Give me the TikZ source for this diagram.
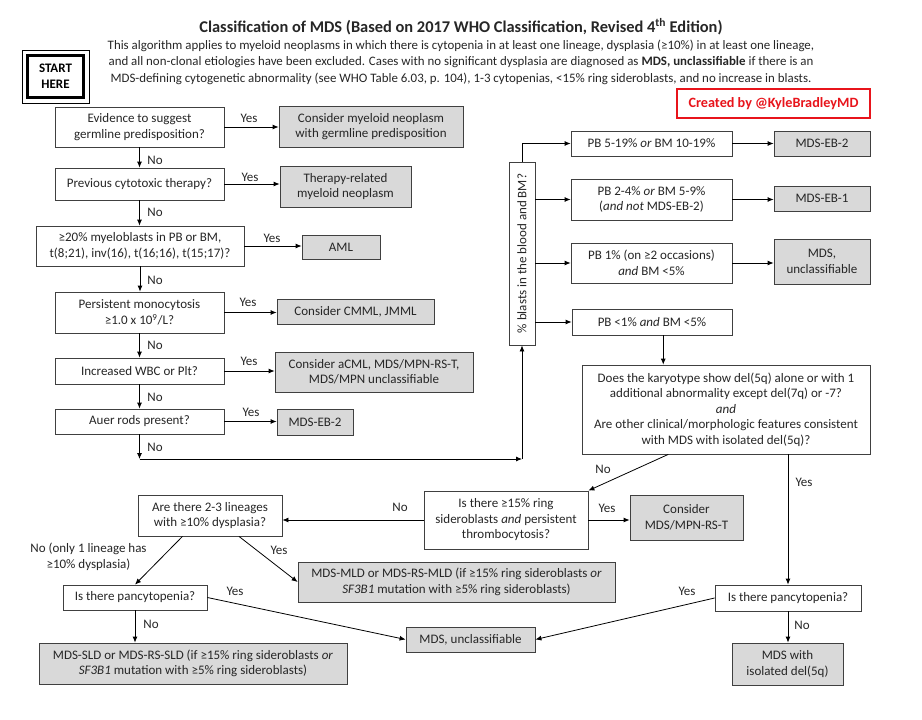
\documentclass[tikz,border=0pt]{standalone}
\usepackage{fontspec}
\setmainfont{Carlito}
\usetikzlibrary{arrows.meta,calc}
\definecolor{txt}{HTML}{262626}
\definecolor{bord}{HTML}{404040}
\definecolor{gfill}{HTML}{D9D9D9}
\definecolor{redc}{HTML}{E8141B}
\begin{document}
\begin{tikzpicture}[x=1pt,y=-1pt,
  base/.style={font=\fontsize{13}{15.5}\selectfont, text=txt, align=center, inner sep=1pt},
  qbox/.style={base, draw=bord, line width=0.8pt, fill=white},
  rbox/.style={qbox, fill=gfill},
  lbl/.style={base, inner sep=0pt},
  arr/.style={-{Latex[length=6pt,width=5pt]}, line width=0.8pt, draw=black}]
\useasboundingbox (0,0) rectangle (922,720);
\fill[white] (0,0) rectangle (922,720);

% header
\node[lbl, font=\fontsize{16.4}{19}\selectfont\bfseries] (title) at (461,27)
  {Classification of MDS (Based on 2017 WHO Classification, Revised 4\textsuperscript{th} Edition)};
\node[lbl, font=\fontsize{12.9}{16.5}\selectfont] (sub) at (461,62)
  {This algorithm applies to myeloid neoplasms in which there is cytopenia in at least one lineage, dysplasia (≥10\%) in at least one lineage,\\
   and all non-clonal etiologies have been excluded. Cases with no significant dysplasia are diagnosed as \textbf{MDS, unclassifiable} if there is an\\
   MDS-defining cytogenetic abnormality (see WHO Table 6.03, p. 104), 1-3 cytopenias, <15\% ring sideroblasts, and no increase in blasts.};
\node[draw=black, line width=0.9pt, minimum width=67pt, minimum height=53pt, inner sep=0pt] (startout) at (55.5,76.5) {};
\node[base, draw=black, line width=3pt, minimum width=56pt, minimum height=42pt, font=\fontsize{13}{16}\selectfont\bfseries, text=black] (start) at (55.5,76.5) {START\\HERE};
\node[base, draw=redc, line width=1.6pt, minimum width=193pt, minimum height=29pt, text=redc, font=\fontsize{14.2}{16}\selectfont\bfseries] (credit) at (773.5,103.5) {Created by @KyleBradleyMD};

% left column
\node[qbox, minimum width=169pt, minimum height=40pt] (ev) at (139.5,127) {Evidence to suggest\\germline predisposition?};
\node[rbox, minimum width=184pt, minimum height=41pt] (evr) at (371,126.5) {Consider myeloid neoplasm\\with germline predisposition};
\node[qbox, minimum width=169pt, minimum height=32pt] (prev) at (139.5,184) {Previous cytotoxic therapy?};
\node[rbox, minimum width=131pt, minimum height=41pt] (ther) at (345.5,186.5) {Therapy-related\\myeloid neoplasm};
\node[qbox, minimum width=208pt, minimum height=40pt] (amlq) at (140,246) {≥20\% myeloblasts in PB or BM,\\t(8;21), inv(16), t(16;16), t(15;17)?};
\node[rbox, minimum width=78pt, minimum height=24pt] (aml) at (341,247) {AML};
\node[qbox, minimum width=169pt, minimum height=41pt] (mono) at (139.5,312.5) {Persistent monocytosis\\≥1.0 x 10\textsuperscript{9}/L?};
\node[rbox, minimum width=157pt, minimum height=25pt] (cmml) at (355.5,311.5) {Consider CMML, JMML};
\node[qbox, minimum width=169pt, minimum height=26pt] (wbc) at (139.5,371) {Increased WBC or Plt?};
\node[rbox, minimum width=198pt, minimum height=40pt] (acml) at (374,372) {Consider aCML, MDS/MPN-RS-T,\\MDS/MPN unclassifiable};
\node[qbox, minimum width=169pt, minimum height=25pt] (auer) at (139.5,421.5) {Auer rods present?};
\node[rbox, minimum width=76pt, minimum height=26pt] (eb2l) at (315,422) {MDS-EB-2};

\node[lbl] (y1) at (249,118) {Yes};
\node[lbl] (y2) at (250,177) {Yes};
\node[lbl] (y3) at (272,238) {Yes};
\node[lbl] (y4) at (248,302) {Yes};
\node[lbl] (y5) at (249,361) {Yes};
\node[lbl] (y6) at (251,412) {Yes};
\node[lbl] (n1) at (155,160) {No};
\node[lbl] (n2) at (155,212) {No};
\node[lbl] (n3) at (155,280) {No};
\node[lbl] (n4) at (155,345) {No};
\node[lbl] (n5) at (155,397) {No};
\node[lbl] (n6) at (155,447) {No};

\draw[arr] (ev.east) -- (ev.east -| evr.west);
\draw[arr] (prev.east) -- (prev.east -| ther.west);
\draw[arr] (amlq.east) -- (amlq.east -| aml.west);
\draw[arr] (mono.east) -- (mono.east -| cmml.west);
\draw[arr] (wbc.east) -- (wbc.east -| acml.west);
\draw[arr] (auer.east) -- (auer.east -| eb2l.west);
\draw[arr] (ev.south) -- (prev.north);
\draw[arr] (prev.south) -- (prev.south |- amlq.north);
\draw[arr] (amlq.south) -- (amlq.south |- mono.north);
\draw[arr] (mono.south) -- (wbc.north);
\draw[arr] (wbc.south) -- (auer.north);

% blasts column
\node[qbox, minimum width=26pt, minimum height=183pt] (blast) at (522,253.5) {\rotatebox{90}{\% blasts in the blood and BM?}};
\coordinate (j1) at (139.5,459);
\coordinate (j2) at (522,459);
\draw[arr] (auer.south) -- (j1);
\draw[arr] (j1) -- (j2);
\draw[arr] (j2) -- (blast.south);

\node[qbox, minimum width=161pt, minimum height=25pt] (b1) at (651.5,143.5) {PB 5-19\% \textit{or} BM 10-19\%};
\node[qbox, minimum width=161pt, minimum height=41pt] (b2) at (651.5,199.5) {PB 2-4\% \textit{or} BM 5-9\%\\(\textit{and not} MDS-EB-2)};
\node[qbox, minimum width=161pt, minimum height=40pt] (b3) at (651.5,263) {PB 1\% (on ≥2 occasions)\\\textit{and} BM <5\%};
\node[qbox, minimum width=160pt, minimum height=26pt] (b4) at (652,322) {PB <1\% \textit{and} BM <5\%};
\node[rbox, minimum width=96pt, minimum height=25pt] (eb2r) at (822,143.5) {MDS-EB-2};
\node[rbox, minimum width=96pt, minimum height=25pt] (eb1) at (822,198.5) {MDS-EB-1};
\node[rbox, minimum width=96pt, minimum height=45pt] (mdsu1) at (822,261.5) {MDS,\\unclassifiable};

\draw[arr] (blast.north) |- (b1.west);
\draw[arr] (blast.east |- b2.west) -- (b2.west);
\draw[arr] (blast.east |- b3.west) -- (b3.west);
\draw[arr] (blast.east |- b4.west) -- (b4.west);
\draw[arr] (b1.east) -- (b1.east -| eb2r.west);
\draw[arr] (b2.east) -- (b2.east -| eb1.west);
\draw[arr] (b3.east) -- (b3.east -| mdsu1.west);

\node[qbox, minimum width=288pt, minimum height=89pt] (big) at (726,409.5)
  {Does the karyotype show del(5q) alone or with 1\\additional abnormality except del(7q) or -7?\\\textit{and}\\Are other clinical/morphologic features consistent\\with MDS with isolated del(5q)?};
\coordinate (b4s) at ($(b4.south west)!0.57!(b4.south east)$);
\draw[arr] (b4s) -- (b4s |- big.north);

% lower part
\node[qbox, minimum width=164pt, minimum height=58pt] (ring) at (506,520) {Is there ≥15\% ring\\sideroblasts \textit{and} persistent\\thrombocytosis?};
\node[rbox, minimum width=113pt, minimum height=45pt] (rst) at (686.5,517.5) {Consider\\MDS/MPN-RS-T};
\node[qbox, minimum width=144pt, minimum height=41pt] (lin) at (210,515.5) {Are there 2-3 lineages\\with ≥10\% dysplasia?};
\node[rbox, minimum width=317pt, minimum height=40pt] (mld) at (456.5,582) {MDS-MLD or MDS-RS-MLD (if ≥15\% ring sideroblasts \textit{or}\\\textit{SF3B1} mutation with ≥5\% ring sideroblasts)};
\node[qbox, minimum width=144pt, minimum height=25pt] (pl) at (135,597.5) {Is there pancytopenia?};
\node[qbox, minimum width=146pt, minimum height=26pt] (pr) at (788,598) {Is there pancytopenia?};
\node[rbox, minimum width=129pt, minimum height=25pt] (mdsu2) at (470.5,639.5) {MDS, unclassifiable};
\node[rbox, minimum width=308pt, minimum height=41pt] (sld) at (193,663.5) {MDS-SLD or MDS-RS-SLD (if ≥15\% ring sideroblasts \textit{or}\\\textit{SF3B1} mutation with ≥5\% ring sideroblasts)};
\node[rbox, minimum width=111pt, minimum height=42pt] (del) at (787.5,664) {MDS with\\isolated del(5q)};

\node[lbl] (n7) at (603,469) {No};
\node[lbl] (y7) at (804,482) {Yes};
\node[lbl] (y8) at (607,508) {Yes};
\node[lbl] (n8) at (400,507) {No};
\node[lbl] (n9) at (88.5,557) {No (only 1 lineage has\\≥10\% dysplasia)};
\node[lbl] (y9) at (279,550) {Yes};
\node[lbl] (y10) at (235,591) {Yes};
\node[lbl] (n10) at (151,624) {No};
\node[lbl] (y11) at (687,591) {Yes};
\node[lbl] (n11) at (802,625) {No};

\draw[arr] ($(big.south west)!0.3!(big.south east)$) -- (ring.north east);
\draw[arr] (big.south -| pr.north) -- (pr.north);
\draw[arr] (ring.east) -- (ring.east -| rst.west);
\draw[arr] (ring.west) -- (ring.west -| lin.east);
\draw[arr] ($(lin.south west)!0.31!(lin.south east)$) -- (pl.north);
\draw[arr] ($(lin.south west)!0.7!(lin.south east)$) -- (mld.west);
\draw[arr] (pl.east) -- (mdsu2.west);
\draw[arr] (pr.west) -- (mdsu2.east);
\draw[arr] (pl.south) -- (pl.south |- sld.north);
\draw[arr] (pr.south) -- (pr.south |- del.north);
\end{tikzpicture}
\end{document}
